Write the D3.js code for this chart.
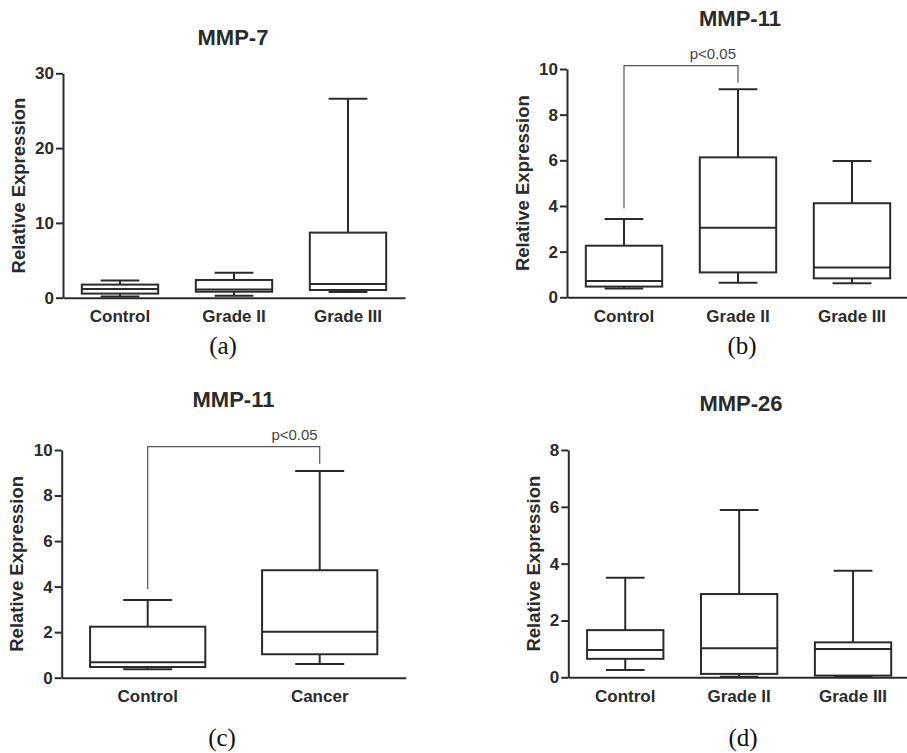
<!DOCTYPE html>
<html>
<head>
<meta charset="utf-8">
<script src="https://cdn.jsdelivr.net/npm/d3@7"></script>
<style>
body { margin: 0; background: #fff; }
text { font-family: "Liberation Sans", Arial, sans-serif; fill: #2b2b2b; }
</style>
</head>
<body>
<script>

// box stats per group: [min, q1, median, q3, max]
const mmp7Groups = ['Control', 'Grade II', 'Grade III']
const mmp7Stats = [
	[0.15, 0.55, 1.15, 1.75, 2.3],
	[0.25, 0.8, 1.1, 2.37, 3.35],
	[0.76, 1.03, 1.83, 8.7, 26.6]
]
const mmp7Ticks = [0, 10, 20, 30]

const mmp11Groups = ['Control', 'Grade II', 'Grade III']
const mmp11Stats = [
	[0.39, 0.47, 0.71, 2.26, 3.43],
	[0.64, 1.09, 3.05, 6.13, 9.11],
	[0.61, 0.83, 1.31, 4.12, 5.97]
]
const mmp11Ticks = [0, 2, 4, 6, 8, 10]

const mmp11cGroups = ['Control', 'Cancer']
const mmp11cStats = [
	[0.37, 0.47, 0.68, 2.24, 3.41],
	[0.6, 1.03, 2.02, 4.72, 9.08]
]
const mmp11cTicks = [0, 2, 4, 6, 8, 10]

const mmp26Groups = ['Control', 'Grade II', 'Grade III']
const mmp26Stats = [
	[0.26, 0.65, 0.96, 1.66, 3.5],
	[0.02, 0.12, 1.02, 2.93, 5.89],
	[0.02, 0.06, 1.0, 1.23, 3.75]
]
const mmp26Ticks = [0, 2, 4, 6, 8]

// significance bracket: [left end, top, right end] in data units
const sigBracket = [3.9, 10.15, 9.4]
const sigLabel = 'p<0.05'

const ink = '#2b2b2b'

const svg = d3.select('body').append('svg')
	.attr('width', 907)
	.attr('height', 753)

function drawPanel(p) {
	const g = svg.append('g')

	const x = d3.scaleBand()
		.domain(p.groups)
		.range([p.x0, p.x1])
		.padding(0)
	const y = d3.scaleLinear()
		.domain([0, d3.max(p.ticks)])
		.range([p.y0, p.y1])

	const boxW = x.bandwidth() * 0.67
	const capW = x.bandwidth() * p.cap

	// y axis
	const yAxis = d3.axisLeft(y)
		.tickValues(p.ticks)
		.tickSize(7)
		.tickSizeOuter(0)
		.tickPadding(2)
	const ya = g.append('g')
		.attr('transform', 'translate(' + p.x0 + ',0)')
		.call(yAxis)
	ya.select('.domain').attr('stroke', ink).attr('stroke-width', 2)
	ya.selectAll('.tick line').attr('stroke', ink).attr('stroke-width', 2)
	ya.selectAll('.tick text')
		.attr('fill', ink)
		.style('font-size', '17px')
		.style('font-weight', 'bold')

	// x axis
	const xAxis = d3.axisBottom(x).tickSize(0).tickSizeOuter(0)
	const xa = g.append('g')
		.attr('transform', 'translate(0,' + p.y0 + ')')
		.call(xAxis)
	xa.select('.domain').attr('stroke', ink).attr('stroke-width', 2)
	xa.selectAll('.tick text')
		.attr('y', 24.5)
		.attr('dy', 0)
		.attr('fill', ink)
		.style('font-size', '17px')
		.style('font-weight', 'bold')

	// axis title
	g.append('text')
		.attr('transform', 'translate(' + (p.x0 - p.titleOff) + ',' + ((p.y0 + p.y1) / 2) + ') rotate(-90)')
		.attr('text-anchor', 'middle')
		.style('font-size', '18.5px')
		.style('font-weight', 'bold')
		.text('Relative Expression')

	// panel title
	g.append('text')
		.attr('x', p.titleX)
		.attr('y', p.titleY)
		.attr('text-anchor', 'middle')
		.style('font-size', '22px')
		.style('font-weight', 'bold')
		.text(p.title)

	// panel letter
	g.append('text')
		.attr('x', p.letterX)
		.attr('y', p.letterY)
		.attr('text-anchor', 'middle')
		.style('font-family', '"Liberation Serif", "Times New Roman", serif')
		.style('font-size', '25px')
		.style('fill', '#111')
		.text(p.letter)

	const boxes = g.selectAll('.box')
		.data(p.stats)
		.enter().append('g')
		.attr('class', 'box')
		.attr('transform', function(d, i) { return 'translate(' + (x(p.groups[i]) + x.bandwidth() / 2) + ',0)' })

	const line = function(sel) {
		return sel.attr('stroke', ink).attr('stroke-width', 2).attr('fill', 'none')
	}

	// whiskers
	boxes.append('line').call(line)
		.attr('x1', 0).attr('x2', 0)
		.attr('y1', function(d) { return y(d[4]) })
		.attr('y2', function(d) { return y(d[0]) })
	boxes.append('line').call(line)
		.attr('x1', -capW / 2).attr('x2', capW / 2)
		.attr('y1', function(d) { return y(d[4]) })
		.attr('y2', function(d) { return y(d[4]) })
	boxes.append('line').call(line)
		.attr('x1', -capW / 2).attr('x2', capW / 2)
		.attr('y1', function(d) { return y(d[0]) })
		.attr('y2', function(d) { return y(d[0]) })

	// box
	boxes.append('rect').call(line)
		.attr('fill', '#fff')
		.attr('x', -boxW / 2)
		.attr('width', boxW)
		.attr('y', function(d) { return y(d[3]) })
		.attr('height', function(d) { return y(d[1]) - y(d[3]) })
	boxes.append('line').call(line)
		.attr('x1', -boxW / 2).attr('x2', boxW / 2)
		.attr('y1', function(d) { return y(d[2]) })
		.attr('y2', function(d) { return y(d[2]) })

	if (p.sig) {
		const xl = x(p.groups[0]) + x.bandwidth() / 2
		const xr = x(p.groups[1]) + x.bandwidth() / 2
		g.append('path')
			.attr('d', 'M' + xl + ',' + y(sigBracket[0]) +
				'V' + y(sigBracket[1]) + 'H' + xr + 'V' + y(sigBracket[2]))
			.attr('fill', 'none')
			.attr('stroke', '#555')
			.attr('stroke-width', 1.2)
		g.append('text')
			.attr('x', xr - 2)
			.attr('y', y(sigBracket[1]) - 7)
			.attr('text-anchor', 'end')
			.style('font-size', '15px')
			.style('fill', '#444')
			.text(sigLabel)
	}
}

drawPanel({
	groups: mmp7Groups, stats: mmp7Stats, ticks: mmp7Ticks,
	x0: 63, x1: 405, y0: 297.7, y1: 73.3, cap: 0.34, titleOff: 38,
	title: 'MMP-7', titleX: 233, titleY: 45, letter: '(a)', letterX: 223, letterY: 354
})
drawPanel({
	groups: mmp11Groups, stats: mmp11Stats, ticks: mmp11Ticks,
	x0: 567, x1: 909, y0: 297.3, y1: 69, cap: 0.34, titleOff: 38, sig: true,
	title: 'MMP-11', titleX: 740, titleY: 26, letter: '(b)', letterX: 742, letterY: 354
})
drawPanel({
	groups: mmp11cGroups, stats: mmp11cStats, ticks: mmp11cTicks,
	x0: 61.7, x1: 405.7, y0: 677.7, y1: 450, cap: 0.285, titleOff: 38.5, sig: true,
	title: 'MMP-11', titleX: 233.5, titleY: 407, letter: '(c)', letterX: 222, letterY: 746
})
drawPanel({
	groups: mmp26Groups, stats: mmp26Stats, ticks: mmp26Ticks,
	x0: 568.3, x1: 910, y0: 677.3, y1: 450, cap: 0.34, titleOff: 28,
	title: 'MMP-26', titleX: 741, titleY: 411, letter: '(d)', letterX: 743, letterY: 746
})

</script>
</body>
</html>
